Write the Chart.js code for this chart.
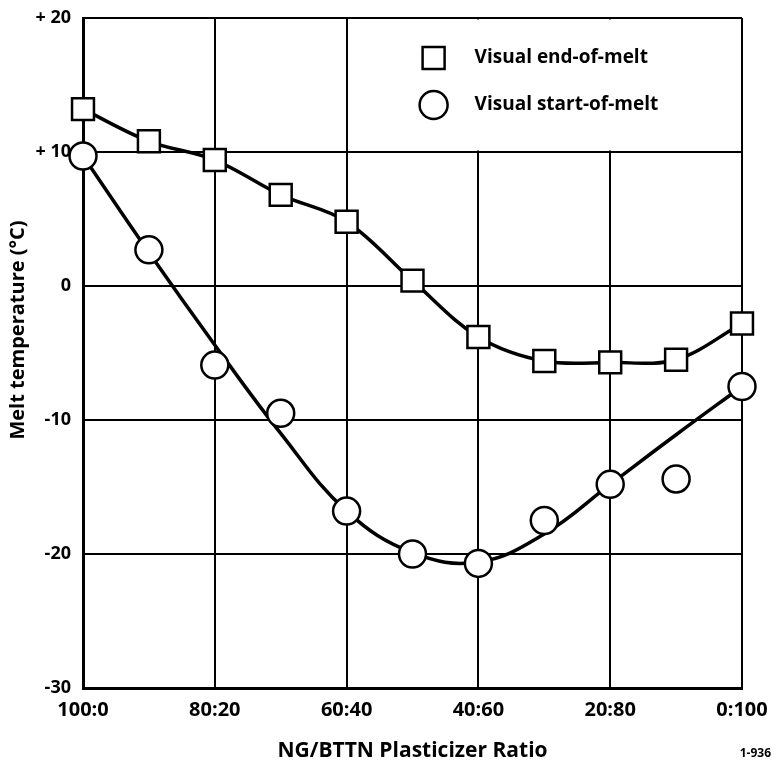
<!DOCTYPE html>
<html>
<head>
<meta charset="utf-8">
<script src="https://cdn.jsdelivr.net/npm/chart.js@4.4.1/dist/chart.umd.min.js"></script>
<style>
  html, body { margin: 0; padding: 0; background: #fff; }
  #wrap { width: 774px; height: 762px; }
</style>
</head>
<body>
<div id="wrap"><canvas id="chart"></canvas></div>
<script>
// NG share in the NG/BTTN blend (%), left of the chart is pure NG
const ngPercent = [100, 90, 80, 70, 60, 50, 40, 30, 20, 10, 0];
const endOfMelt = [13.2, 10.8, 9.4, 6.8, 4.8, 0.4, -3.8, -5.6, -5.7, -5.5, -2.8];
const startOfMelt = [9.7, 2.7, -5.9, -9.5, -16.8, -20.0, -20.7, -17.5, -14.8, -14.4, -7.5];
// hand-drawn trend line through the start-of-melt points
const startOfMeltFit = [9.7, 2.5, -4.4, -11.0, -16.8, -19.9, -20.6, -18.5, -14.8, -11.1, -7.5];

const xTickValues = [100, 80, 60, 40, 20, 0];
const xTickLabels = ['100:0', '80:20', '60:40', '40:60', '20:80', '0:100'];
const yTickValues = [20, 10, 0, -10, -20, -30];
const yTickLabels = ['+ 20', '+ 10', '0', '-10', '-20', '-30'];
const seriesNames = ['Visual end-of-melt', 'Visual start-of-melt'];
const yTitle = 'Melt temperature (°C)';

const FONT = "'Open Sans', 'DejaVu Sans', sans-serif";

const toPoints = (ys) => ngPercent.map((x, i) => ({x: x, y: ys[i]}));

// white legend panel in the top right cell block, drawn over the grid
const legendBox = {
  id: 'legendBox',
  beforeDatasetsDraw(chart) {
    const {ctx, chartArea} = chart;
    const x = chart.scales.x, y = chart.scales.y;
    const left = x.getPixelForValue(60);
    const bottom = y.getPixelForValue(10);
    ctx.save();
    ctx.fillStyle = '#fff';
    ctx.fillRect(left + 1.5, chartArea.top + 1.5, chartArea.right - left - 3, bottom - chartArea.top - 3);

    const mx = left + 87;
    const tx = left + 128;
    const y1 = chartArea.top + 40;
    const y2 = chartArea.top + 87;
    ctx.strokeStyle = '#000';
    ctx.lineWidth = 2.5;
    ctx.strokeRect(mx - 11, y1 - 11, 22, 22);
    ctx.beginPath();
    ctx.arc(mx, y2, 14, 0, Math.PI * 2);
    ctx.stroke();

    ctx.fillStyle = '#000';
    ctx.font = 'bold 19px ' + FONT;
    ctx.textBaseline = 'middle';
    ctx.textAlign = 'left';
    ctx.fillText(seriesNames[0], tx, y1);
    ctx.fillText(seriesNames[1], tx, y2);
    ctx.restore();
  },
  afterDraw(chart) {
    const ctx = chart.ctx;
    ctx.save();
    ctx.fillStyle = '#000';
    ctx.font = 'bold 12px ' + FONT;
    ctx.textAlign = 'right';
    ctx.textBaseline = 'middle';
    ctx.fillText('1-936', 771, 754);

    // y axis title sits a bit above the middle of the axis
    ctx.translate(18, 330);
    ctx.rotate(-Math.PI / 2);
    ctx.textAlign = 'center';
    ctx.font = 'bold 20px ' + FONT;
    ctx.fillText(yTitle, 0, 0);
    ctx.restore();
  }
};

const chart = new Chart(document.getElementById('chart'), {
  type: 'scatter',
  data: {
    datasets: [
      {
        label: 'fit',
        data: toPoints(startOfMeltFit),
        showLine: true,
        borderColor: '#000',
        borderWidth: 3.5,
        pointRadius: 0,
        tension: 0.4,
        clip: false,
        order: 3
      },
      {
        label: seriesNames[1],
        data: toPoints(startOfMelt),
        showLine: false,
        pointStyle: 'circle',
        pointRadius: 13.5,
        pointBackgroundColor: '#fff',
        pointBorderColor: '#000',
        pointBorderWidth: 2.5,
        clip: false,
        order: 1
      },
      {
        label: seriesNames[0],
        data: toPoints(endOfMelt),
        showLine: true,
        borderColor: '#000',
        borderWidth: 3.5,
        tension: 0.35,
        pointStyle: 'rect',
        pointRadius: 15.5,
        pointBackgroundColor: '#fff',
        pointBorderColor: '#000',
        pointBorderWidth: 2.5,
        clip: false,
        order: 2
      }
    ]
  },
  options: {
    responsive: true,
    maintainAspectRatio: false,
    animation: false,
    layout: { padding: { top: 17, right: 32, bottom: 0, left: 0 } },
    plugins: {
      legend: { display: false },
      tooltip: { enabled: false }
    },
    scales: {
      x: {
        type: 'linear',
        reverse: true,
        min: 0,
        max: 100,
        afterBuildTicks: (s) => { s.ticks = xTickValues.map(v => ({value: v})); },
        afterFit: (s) => { s.height = 74; s.paddingLeft = 0; s.paddingRight = 0; },
        ticks: {
          padding: 10,
          maxRotation: 0,
          color: '#000',
          font: { family: FONT, size: 20, weight: 'bold' },
          callback: (value) => xTickLabels[xTickValues.indexOf(value)]
        },
        grid: { color: '#000', lineWidth: 2, drawTicks: false },
        border: { color: '#000', width: 3 },
        title: {
          display: true,
          text: 'NG/BTTN Plasticizer Ratio',
          color: '#000',
          font: { family: FONT, size: 21, weight: 'bold' },
          padding: { top: 0, bottom: -2 }
        }
      },
      y: {
        type: 'linear',
        min: -30,
        max: 20,
        afterBuildTicks: (s) => { s.ticks = yTickValues.map(v => ({value: v})); },
        afterFit: (s) => { s.width = 83; s.paddingTop = 0; s.paddingBottom = 0; },
        ticks: {
          padding: 12,
          color: '#000',
          font: { family: FONT, size: 18, weight: 'bold' },
          callback: (value) => yTickLabels[yTickValues.indexOf(value)]
        },
        grid: { color: '#000', lineWidth: 2, drawTicks: false },
        border: { color: '#000', width: 3 }
      }
    }
  },
  plugins: [legendBox]
});
</script>
</body>
</html>
